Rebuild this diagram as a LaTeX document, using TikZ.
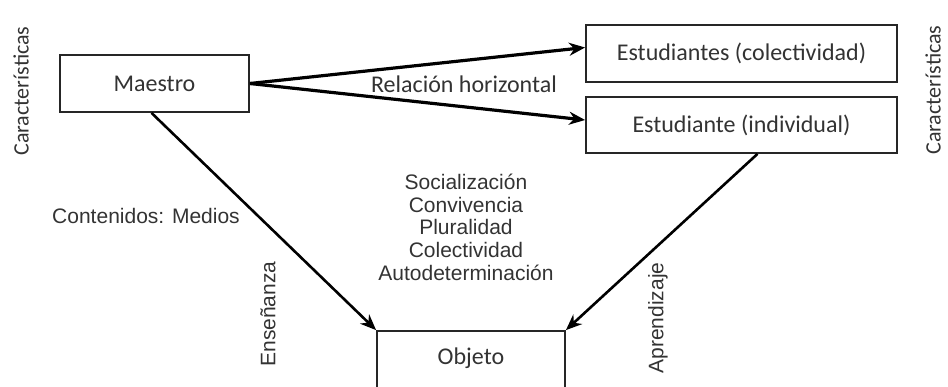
\documentclass[tikz,border=0pt]{standalone}
\usepackage{fontspec}
\setmainfont{Carlito}
\newfontfamily\arialf{Liberation Sans}
\usetikzlibrary{arrows.meta,calc}
\definecolor{txt}{gray}{0.2}
\tikzset{
  box/.style={draw=black!85, line width=1.8pt, fill=white, inner sep=0pt, text=txt, font=\fontsize{24}{28}\selectfont},
  cal/.style={text=txt, inner sep=0pt, font=\fontsize{24}{28}\selectfont},
  side/.style={text=txt, inner sep=0pt, font=\fontsize{22}{26}\selectfont},
  ari/.style={text=txt, inner sep=0pt, font=\arialf\fontsize{21}{24}\selectfont},
  thickarrow/.style={line width=3.2pt, -{Stealth[length=16pt,width=13pt]}},
  diagarrow/.style={line width=2.6pt, -{Stealth[length=16pt,width=13pt]}}
}
\begin{document}
\begin{tikzpicture}[x=1pt,y=-1pt]
\useasboundingbox (0,0) rectangle (948,386);
\node[box, minimum width=189pt, minimum height=57pt] (m) at (154.5,83.5) {Maestro};
\node[box, minimum width=311pt, minimum height=57pt] (c) at (741.5,53.5) {Estudiantes (colectividad)};
\node[box, minimum width=311pt, minimum height=56pt] (i) at (741.5,125) {Estudiante (individual)};
\node[box, minimum width=188pt, minimum height=62pt] (o) at (471,362) {};
\node[cal] (ot) at (471,358) {Objeto};
\draw[thickarrow] (m.east) -- ($(c.west)+(0,-6)$);
\draw[thickarrow] (m.east) -- ($(i.west)+(0,-5)$);
\draw[diagarrow] ($(m.south)+(-3,0)$) -- (o.north west);
\draw[diagarrow] ($(i.south)+(16,0)$) -- (o.north east);
\node[cal] (rh) at (464,84) {Relación horizontal};
\node[ari] (cm) at (146,216) {Contenidos: Medios};
\node[ari, rotate=90] (en) at (268,314) {Enseñanza};
\node[ari, rotate=90] (ap) at (658,318) {Aprendizaje};
\node[ari] (l1) at (466,182) {Socialización};
\node[ari] (l2) at (466,205) {Convivencia};
\node[ari] (l3) at (466,227) {Pluralidad};
\node[ari] (l4) at (466,250) {Colectividad};
\node[ari] (l5) at (466,273) {Autodeterminación};
\node[side, rotate=90] (kl) at (21,91) {Características};
\node[side, rotate=90] (kr) at (933,90) {Características};
\end{tikzpicture}
\end{document}
